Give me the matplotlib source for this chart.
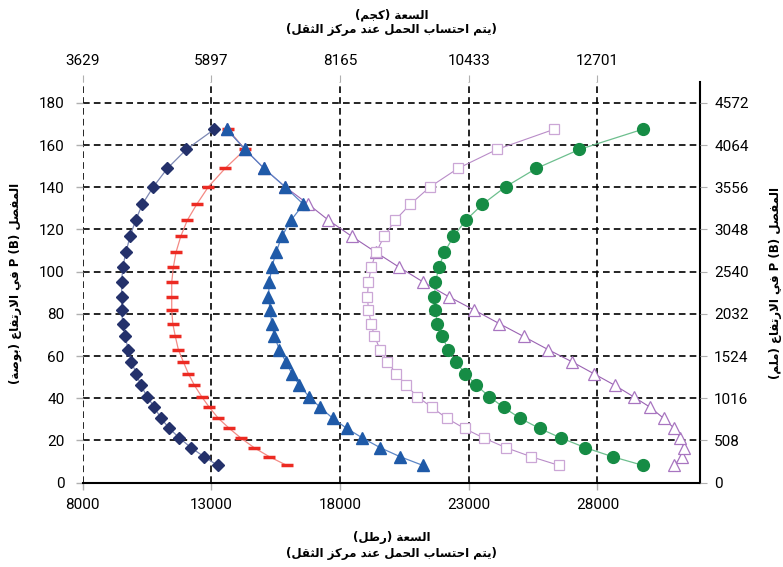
import matplotlib
matplotlib.use("Agg")
import matplotlib.pyplot as plt

# heights of the P(B) joint, inches (shared by every curve)
heights_in = [8.2, 12.3, 16.6, 21.2, 25.7, 30.5, 35.7, 40.7, 46.2, 51.7, 57.3, 63.1, 69.3,
              75.4, 81.8, 88.2, 95.0, 102.1, 109.2, 116.7, 124.4, 131.9, 140.2, 148.9, 157.9, 167.5]

# capacity, lb
cap_diamond = [13249, 12716, 12211, 11756, 11367, 11044, 10784, 10512, 10255, 10084, 9890, 9773, 9645,
               9555, 9516, 9516, 9516, 9555, 9683, 9839, 10060, 10317, 10745, 11290, 12028, 13120]
cap_dash = [15932, 15255, 14660, 14143, 13700, 13272, 12922, 12627, 12339, 12106, 11911, 11717, 11600,
            11500, 11460, 11460, 11460, 11523, 11627, 11810, 12067, 12432, 12884, 13533, 14310, 13640]
cap_tri = [21219, 20337, 19559, 18871, 18265, 17720, 17226, 16799, 16422, 16126, 15893, 15644, 15449,
           15348, 15282, 15216, 15255, 15348, 15516, 15737, 16099, 16577, 15865, 15049, 14310, 13599]
cap_tri_open = [30963, 31300, 31360, 31230, 30990, 30574, 30057, 29408, 28669, 27853, 27013, 26080, 25131,
                24186, 23214, 22215, 21243, 20298, 19392, 18459, 17549, 16772, 15865, 15049, 14310, 13599]
cap_square = [26507, 25430, 24447, 23576, 22837, 22153, 21570, 21010, 20570, 20182, 19843, 19559, 19337,
              19210, 19104, 19066, 19104, 19210, 19404, 19715, 20143, 20726, 21503, 22580, 24097, 26331]
cap_circle = [29773, 28592, 27530, 26585, 25753, 25002, 24353, 23808, 23292, 22864, 22502, 22191, 21981,
              21787, 21698, 21670, 21709, 21841, 22059, 22409, 22891, 23536, 24431, 25625, 27300, 29772]

lb_ticks = [8000, 13000, 18000, 23000, 28000]
kg_labels = ["3629", "5897", "8165", "10433", "12701"]
in_ticks = [0, 20, 40, 60, 80, 100, 120, 140, 160, 180]
mm_labels = ["0", "508", "1016", "1524", "2032", "2540", "3048", "3556", "4064", "4572"]

title_kg = "السعة (كجم)"
title_lb = "السعة (رطل)"
title_note = "(يتم احتساب الحمل عند مركز الثقل)"
ylabel_in = "المفصل P (B) في الارتفاع (بوصة)"
ylabel_mm = "المفصل P (B) في الارتفاع (ملم)"

# --- tiny arabic shaper: presentation forms + right-to-left ordering ---
DUAL = {'ب': 0xFE8F, 'ت': 0xFE95, 'ث': 0xFE99, 'ج': 0xFE9D, 'ح': 0xFEA1, 'خ': 0xFEA5,
        'س': 0xFEB1, 'ش': 0xFEB5, 'ص': 0xFEB9, 'ط': 0xFEC1, 'ع': 0xFEC9, 'ف': 0xFED1,
        'ق': 0xFED5, 'ك': 0xFED9, 'ل': 0xFEDD, 'م': 0xFEE1, 'ن': 0xFEE5, 'ه': 0xFEE9, 'ي': 0xFEF1}
RIGHT = {'ا': 0xFE8D, 'ة': 0xFE93, 'د': 0xFEA9, 'ذ': 0xFEAB, 'ر': 0xFEAD, 'ز': 0xFEAF,
         'و': 0xFEED, 'ى': 0xFEEF, 'LA': 0xFEFB}


def shape_word(word):
    units = []
    i = 0
    while i < len(word):
        if word[i] == 'ل' and i + 1 < len(word) and word[i + 1] == 'ا':
            units.append('LA')
            i += 2
        else:
            units.append(word[i])
            i += 1
    out = []
    for k, u in enumerate(units):
        if u not in DUAL and u not in RIGHT:
            out.append(u)
            continue
        prev = units[k - 1] if k > 0 else None
        nxt = units[k + 1] if k + 1 < len(units) else None
        join_prev = prev in DUAL
        join_next = u in DUAL and (nxt in DUAL or nxt in RIGHT)
        base = DUAL.get(u, RIGHT.get(u))
        if join_prev and join_next:
            code = base + 3
        elif join_next:
            code = base + 2
        elif join_prev:
            code = base + 1
        else:
            code = base
        out.append(chr(code))
    swap = {'(': ')', ')': '('}
    return ''.join(swap.get(c, c) for c in reversed(out))


def rtl(text):
    segs = []
    for tok in text.split(' '):
        if any(c in DUAL or c in RIGHT for c in tok):
            segs.append(shape_word(tok))
        elif segs and isinstance(segs[-1], tuple):
            segs[-1] = ('L', segs[-1][1] + ' ' + tok)
        else:
            segs.append(('L', tok))
    parts = [s[1] if isinstance(s, tuple) else s for s in segs]
    return ' '.join(reversed(parts))


num_font = ['Liberation Sans Narrow', 'Roboto']
ar_font = ['DejaVu Sans']

fig = plt.figure(figsize=(7.83, 5.67), dpi=100)
ax = fig.add_axes([0.1056, 0.1487, 0.7888, 0.7072])
ax.set_xlim(8000, 32000)
ax.set_ylim(0, 190)

ax.plot(cap_diamond, heights_in, color='#7c87b3', lw=0.9, marker='D', ms=6.5,
        mfc='#24316b', mec='#24316b', zorder=3)
ax.plot(cap_dash, heights_in, color='#f48a84', lw=0.9, marker='_', ms=8, mew=2.5,
        mec='#ec2a22', zorder=3)
ax.plot(cap_tri_open, heights_in, color='#9a62b2', lw=0.8, marker='^', ms=8.5,
        mfc='white', mec='#a875c0', mew=0.9, zorder=3)
ax.plot(cap_tri, heights_in, color='#5c86c6', lw=0.9, marker='^', ms=8.5,
        mfc='#1f5aa8', mec='#1f5aa8', zorder=4)
ax.plot(cap_square, heights_in, color='#b98cc8', lw=0.8, marker='s', ms=7.5,
        mfc='white', mec='#cba6d6', mew=0.9, zorder=3)
ax.plot(cap_circle, heights_in, color='#6dbf8e', lw=0.9, marker='o', ms=8.5,
        mfc='#168c45', mec='#168c45', zorder=3)

ax.set_xticks(lb_ticks)
ax.set_xticklabels([str(v) for v in lb_ticks], fontfamily=num_font, fontsize=11)
ax.set_yticks(in_ticks)
ax.set_yticklabels([str(v) for v in in_ticks], fontfamily=num_font, fontsize=11)
ax.grid(True, color='black', lw=1.2, linestyle=(0, (4, 2.5)))
ax.set_axisbelow(True)
ax.tick_params(axis='both', color='#b0b0b0', length=5, width=1)
ax.tick_params(axis='x', pad=6)
ax.tick_params(axis='y', pad=8)
for side in ['left', 'top']:
    ax.spines[side].set_visible(False)
ax.spines['bottom'].set_linewidth(1.5)
ax.spines['right'].set_linewidth(1.5)

axt = ax.twiny()
axt.set_xlim(ax.get_xlim())
axt.set_xticks(lb_ticks)
axt.set_xticklabels(kg_labels, fontfamily=num_font, fontsize=11)
axt.tick_params(axis='x', color='#b0b0b0', length=5, pad=5)
for s in axt.spines.values():
    s.set_visible(False)

axr = ax.twinx()
axr.set_ylim(ax.get_ylim())
axr.set_yticks(in_ticks)
axr.set_yticklabels(mm_labels, fontfamily=num_font, fontsize=11)
axr.tick_params(axis='y', color='#b0b0b0', length=5, pad=5)
for s in axr.spines.values():
    s.set_visible(False)

tkw = dict(ha='center', va='center', fontfamily=ar_font, fontweight='bold', fontsize=8.5)
fig.text(0.4998, 1 - 15 / 567, rtl(title_kg), **tkw)
fig.text(0.4998, 1 - 30 / 567, rtl(title_note), **tkw)
fig.text(0.4998, 1 - 537 / 567, rtl(title_lb), **tkw)
fig.text(0.4998, 1 - 553 / 567, rtl(title_note), **tkw)
fig.text(15 / 783, 1 - 283 / 567, rtl(ylabel_in), rotation=90, **tkw)
fig.text(775 / 783, 1 - 283 / 567, rtl(ylabel_mm), rotation=90, **tkw)

fig.savefig("out.png", dpi=100)
